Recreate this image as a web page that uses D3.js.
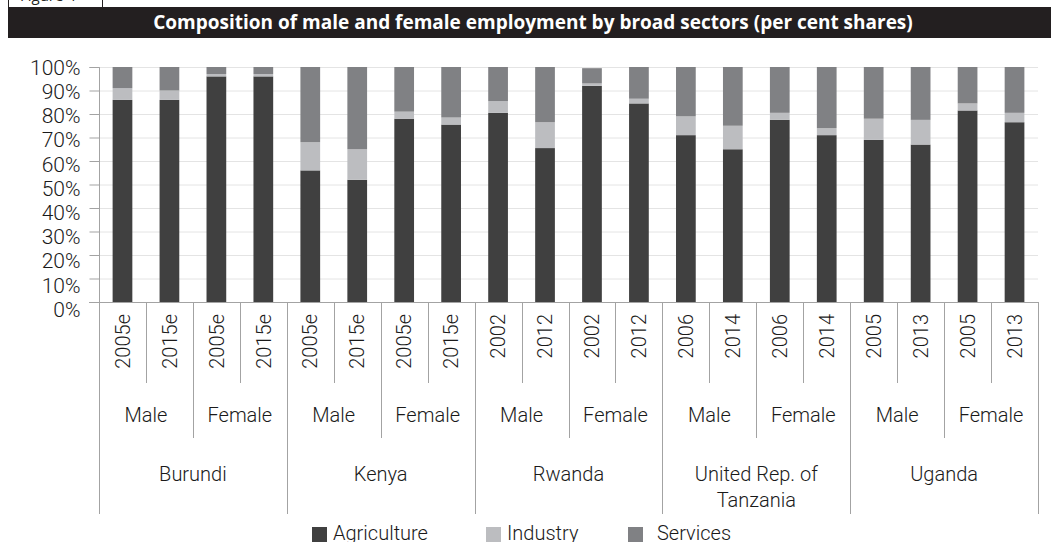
<!DOCTYPE html>
<html>
<head>
<meta charset="utf-8">
<script src="https://cdn.jsdelivr.net/npm/d3@7"></script>
<style>
  html, body { margin: 0; padding: 0; background: #fff; }
  svg { display: block; }
  .lbl { font-family: Roboto, "Liberation Sans", sans-serif; font-weight: 300; fill: #1a1a1a; }
</style>
</head>
<body>
<svg id="chart" width="1051" height="542"></svg>
<script>
const titleText = "Composition of male and female employment by broad sectors (per cent shares)";
const countries = ["Burundi", "Kenya", "Rwanda", "United Rep. of|Tanzania", "Uganda"];
const genders = ["Male", "Female"];
const years = ["2005e","2015e","2005e","2015e","2005e","2015e","2005e","2015e",
               "2002","2012","2002","2012","2006","2014","2006","2014",
               "2005","2013","2005","2013"];
const agriculture = [86,86,96,96,56,52,78,75.5,80.5,65.5,92,84.5,71,65,77.5,71,69,67,81.5,76.5];
const industry    = [5,4,1,1,12,13,3,3,5,11,1,2,8,10,3,3,9,10.5,3,4];
const services    = [9,10,3,3,32,35,19,21.5,14.5,23.5,6.5,13.5,21,25,19.5,26,22,22.5,15.5,19.5];
const sectors = ["Agriculture", "Industry", "Services"];
const yTicks = [0,10,20,30,40,50,60,70,80,90,100];

const colors = { Agriculture: "#404040", Industry: "#bcbdc0", Services: "#808184" };

const svg = d3.select("#chart");
const W = 1051;
const plot = { left: 99, right: 1038, top: 67, bottom: 302 };

// Header
svg.append("rect").attr("x", 8.5).attr("y", -2).attr("width", 94).attr("height", 10)
  .attr("fill", "#fff").attr("stroke", "#231f20").attr("stroke-width", 1);
svg.append("text").attr("x", 20).attr("y", 1).attr("font-family", "Open Sans, sans-serif")
  .attr("font-size", 15).attr("fill", "#231f20").text("Figure 4");
svg.append("rect").attr("x", 8).attr("y", 7).attr("width", W - 8).attr("height", 31).attr("fill", "#231f20");
svg.append("text").attr("x", 533).attr("y", 29).attr("text-anchor", "middle")
  .attr("font-family", "Open Sans, sans-serif").attr("font-weight", 700).attr("font-size", 19)
  .attr("fill", "#fff").text(titleText);

// Data rows
const rows = years.map((yr, i) => ({ i, Agriculture: agriculture[i], Industry: industry[i], Services: services[i] }));
const stacked = d3.stack().keys(sectors)(rows);

const x = d3.scaleBand().domain(d3.range(years.length)).range([plot.left, plot.right]).padding(0);
const y = d3.scaleLinear().domain([0, 100]).range([plot.bottom, plot.top]);
const bw = x.bandwidth();
const barW = bw * 0.42;

// Gridlines
svg.append("g").selectAll("line").data(yTicks.filter(d => d > 0)).join("line")
  .attr("x1", plot.left).attr("x2", plot.right)
  .attr("y1", d => y(d) + 0.5).attr("y2", d => y(d) + 0.5)
  .attr("stroke", "#e4e4e4").attr("stroke-width", 1);

// Bars
svg.append("g").selectAll("g").data(stacked).join("g")
  .attr("fill", d => colors[d.key])
  .selectAll("rect").data(d => d).join("rect")
  .attr("x", d => x(d.data.i) + (bw - barW) / 2)
  .attr("width", barW)
  .attr("y", d => y(d[1]))
  .attr("height", d => y(d[0]) - y(d[1]));

// Y axis
const yAxis = d3.axisLeft(y).tickValues(yTicks).tickFormat(d => d + "%").tickSize(10).tickPadding(9);
const gy = svg.append("g").attr("transform", `translate(${plot.left + 0.5},0)`).call(yAxis);
gy.select(".domain").attr("stroke", "#a3a3a3").attr("d", `M-10,${plot.top + 0.5}H0V${plot.bottom + 0.5}`);
gy.selectAll(".tick line").attr("stroke", "#a3a3a3");
gy.selectAll(".tick text").attr("class", "lbl").attr("font-size", 21).attr("fill", "#1a1a1a")
  .attr("dy", d => (0.35 * 21 + (100 - d) / 100 * 7) + "px");

// Category axis (x)
const xg = svg.append("g");
xg.append("line").attr("x1", plot.left - 10).attr("x2", plot.right)
  .attr("y1", plot.bottom + 0.5).attr("y2", plot.bottom + 0.5).attr("stroke", "#a3a3a3");

const boundaries = d3.range(years.length + 1).map(k => {
  let bottom = 383;
  if (k % 4 === 0) bottom = 514;
  else if (k % 2 === 0) bottom = 438;
  return { k, bottom };
});
xg.selectAll("line.div").data(boundaries).join("line").attr("class", "div")
  .attr("x1", d => Math.round(d.k === years.length ? plot.right : (x(d.k))) + 0.5)
  .attr("x2", d => Math.round(d.k === years.length ? plot.right : (x(d.k))) + 0.5)
  .attr("y1", plot.bottom).attr("y2", d => d.bottom)
  .attr("stroke", "#a3a3a3").attr("stroke-width", 1);

// Year labels
xg.selectAll("text.yr").data(years).join("text").attr("class", "yr lbl")
  .attr("font-size", 20).attr("text-anchor", "end")
  .attr("transform", (d, i) => `translate(${x(i) + bw / 2},314) rotate(-90)`)
  .attr("dy", "0.36em").text(d => d);

// Gender labels
const genderCells = d3.range(years.length / 2).map(j => ({ j, label: genders[j % 2] }));
xg.selectAll("text.gen").data(genderCells).join("text").attr("class", "gen lbl")
  .attr("font-size", 20).attr("text-anchor", "middle")
  .attr("x", d => x(d.j * 2) + bw).attr("y", 422).text(d => d.label);

// Country labels
const cg = xg.selectAll("text.cty").data(countries).join("text").attr("class", "cty lbl")
  .attr("font-size", 20).attr("text-anchor", "middle")
  .attr("x", (d, c) => x(c * 4) + bw * 2).attr("y", 481);
cg.each(function(d) {
  const parts = d.split("|");
  const t = d3.select(this);
  parts.forEach((p, k) => {
    t.append("tspan").attr("x", t.attr("x")).attr("dy", k === 0 ? 0 : 26).text(p);
  });
});

// Legend
const legendItems = [
  { key: "Agriculture", x: 312 },
  { key: "Industry", x: 486 },
  { key: "Services", x: 628 }
];
const lg = svg.append("g");
lg.selectAll("rect").data(legendItems).join("rect")
  .attr("x", d => d.x).attr("y", 527).attr("width", 15).attr("height", 15)
  .attr("fill", d => colors[d.key]);
lg.selectAll("text").data(legendItems).join("text").attr("class", "lbl")
  .attr("font-size", 20)
  .attr("x", d => d.x + (d.key === "Services" ? 29 : 21)).attr("y", 540)
  .text(d => d.key);
</script>
</body>
</html>
